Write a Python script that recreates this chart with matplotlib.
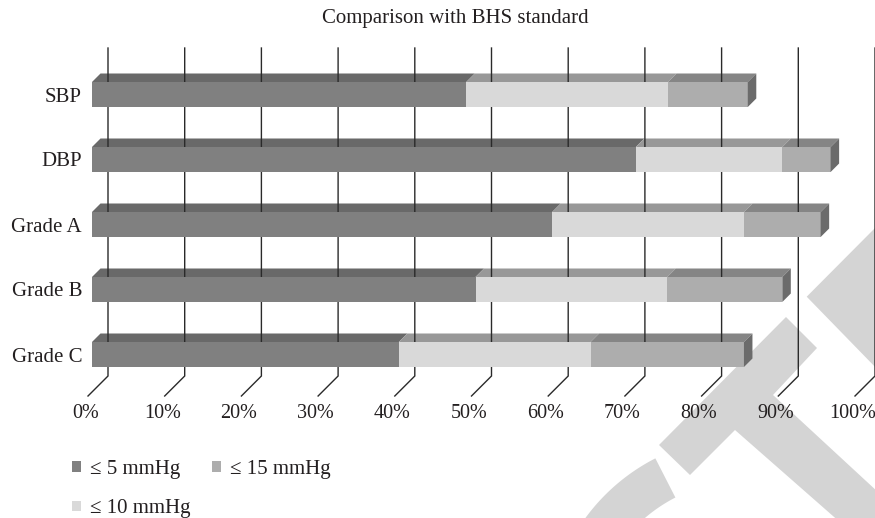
import numpy as np
import matplotlib.pyplot as plt
from matplotlib.patches import Polygon, Patch

categories = ['SBP', 'DBP', 'Grade A', 'Grade B', 'Grade C']
# cumulative share of readings within each error band (%)
within_5 = [48.8, 70.9, 60, 50, 40]
within_10 = [75.1, 90.0, 85, 75, 65]
within_15 = [85.5, 96.3, 95, 90, 85]
series_labels = ['≤ 5 mmHg', '≤ 10 mmHg', '≤ 15 mmHg']
tick_values = [0, 10, 20, 30, 40, 50, 60, 70, 80, 90, 100]
tick_labels = ['0%', '10%', '20%', '30%', '40%', '50%', '60%', '70%', '80%', '90%', '100%']
title = 'Comparison with BHS standard'

front_colors = ['#808080', '#d9d9d9', '#adadad']
top_colors = ['#696969', '#989898', '#858585']
side_color = '#6b6b6b'
grid_color = '#2a2a2a'
mark_color = '#d4d4d4'
text_color = '#231f20'

plt.rcParams['font.family'] = ['Liberation Serif', 'DejaVu Serif']
FS = 15
FS_TICK = 14.5

W, H = 875, 518
fig = plt.figure(figsize=(W / 100, H / 100), dpi=100)

# light background emblem, drawn in pixel space
bg = fig.add_axes([0, 0, 1, 1], zorder=-1)
bg.set_xlim(0, W)
bg.set_ylim(H, 0)
bg.axis('off')
bg.add_patch(Polygon([(880, 223), (806.7, 296.7), (880, 372)], closed=True,
                     color=mark_color, lw=0))
bg.add_patch(Polygon([(786, 317), (817, 348), (773, 395), (905, 517), (905, 545),
                      (866, 545), (735, 430), (690, 475), (659, 445)],
                     closed=True, color=mark_color, lw=0))
cx, cy, r_out, r_in = 746, 635.5, 199, 155
ang = np.radians(np.linspace(-117.1, -170, 60))
arc = np.vstack([np.c_[cx + r_out * np.cos(ang), cy + r_out * np.sin(ang)],
                 np.c_[cx + r_in * np.cos(ang[::-1]), cy + r_in * np.sin(ang[::-1])]])
bg.add_patch(Polygon(arc, closed=True, color=mark_color, lw=0))

# main axes: x in percent, y in category slots (front plane of the bars)
ax = fig.add_axes([92 / W, (H - 419.5) / H, 767 / W, 390 / H])
ax.set_xlim(0, 100)
ax.set_ylim(5, -1)
ax.set_facecolor('none')
for s in ax.spines.values():
    s.set_visible(False)

# pixel -> data steps used for the oblique depth offset
DX = 100 / 767
DY = -1 / 65
bar_h = 25 / 65
bar_depth = 8.5
wall_depth = 16
floor_depth = -4
top_i = -0.469
floor_i = 4.577

# back wall gridlines folding onto the floor
for t, lab in zip(tick_values, tick_labels):
    xs = [t + wall_depth * DX, t + wall_depth * DX, t + floor_depth * DX]
    ys = [top_i + wall_depth * DY, floor_i + wall_depth * DY, floor_i + floor_depth * DY]
    ax.plot(xs, ys, color=grid_color, lw=1.0, zorder=2.5, clip_on=False,
            solid_joinstyle='miter')
    ax.text(t + (floor_depth - 2.5) * DX, 4.915, lab, ha='center', va='center',
            fontsize=FS_TICK, color=text_color, clip_on=False)

cum = np.array([within_5, within_10, within_15])
segs = np.diff(np.vstack([np.zeros(len(categories)), cum]), axis=0)
ypos = np.arange(len(categories))

for k in range(3):
    lefts = cum[k] - segs[k]
    ax.barh(ypos, segs[k], left=lefts, height=bar_h, color=front_colors[k],
            lw=0, zorder=3)
    for i in ypos:
        l, r = lefts[i], cum[k][i]
        yt = i - bar_h / 2
        top = [(l, yt), (r, yt), (r + bar_depth * DX, yt + bar_depth * DY),
               (l + bar_depth * DX, yt + bar_depth * DY)]
        ax.add_patch(Polygon(top, closed=True, color=top_colors[k], lw=0, zorder=2))

for i in ypos:
    r = cum[-1][i]
    yt, yb = i - bar_h / 2, i + bar_h / 2
    side = [(r, yt), (r + bar_depth * DX, yt + bar_depth * DY),
            (r + bar_depth * DX, yb + bar_depth * DY), (r, yb)]
    ax.add_patch(Polygon(side, closed=True, color=side_color, lw=0, zorder=3))

ax.set_xticks([])
ax.set_yticks(ypos)
ax.set_yticklabels(categories, fontsize=FS, color=text_color)
ax.tick_params(axis='y', length=0, pad=7.2)

fig.text(455 / W, 1 - 19 / H, title, ha='center', va='center', fontsize=FS,
         color=text_color)

handles = [Patch(color=c, lw=0) for c in front_colors]
fig.legend(handles, series_labels, ncol=2, loc='upper left',
           bbox_to_anchor=(72 / W, 1 - 460 / H), frameon=False, fontsize=FS,
           handlelength=0.43, handleheight=0.43, handletextpad=0.45,
           columnspacing=1.0, labelspacing=0.98, borderpad=0, borderaxespad=0,
           labelcolor=text_color)

fig.savefig('out.png', dpi=100)
